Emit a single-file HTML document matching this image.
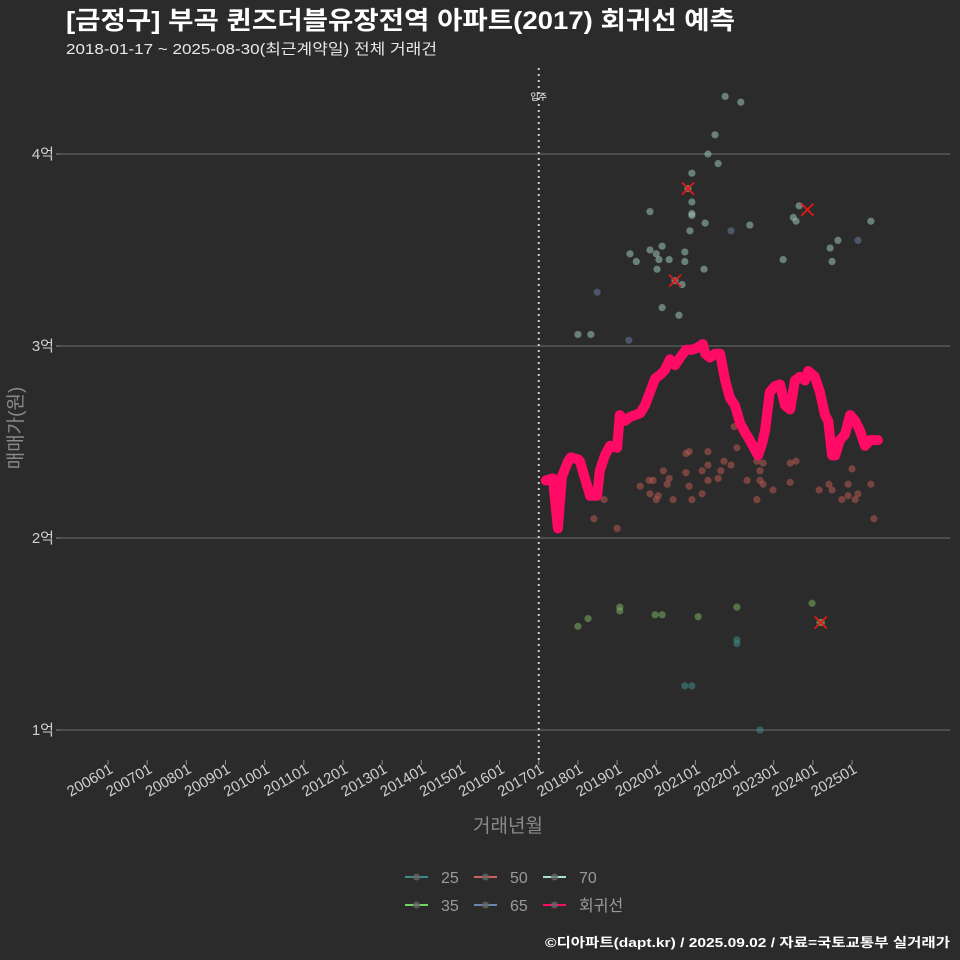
<!DOCTYPE html>
<html><head><meta charset="utf-8">
<style>
html,body{margin:0;padding:0;background:#2b2b2b;}
svg{display:block;font-family:"Liberation Sans","Noto Sans CJK KR",sans-serif;}
</style></head>
<body>
<svg id="chart" width="960" height="960" viewBox="0 0 960 960">
<rect width="960" height="960" fill="#2b2b2b"/>
<text x="66" y="29" font-size="25" font-weight="bold" fill="#ffffff" textLength="669" lengthAdjust="spacingAndGlyphs">[금정구] 부곡 퀸즈더블유장전역 아파트(2017) 회귀선 예측</text>
<text x="66" y="54" font-size="15" fill="#e8e8e8" textLength="371" lengthAdjust="spacingAndGlyphs">2018-01-17 ~ 2025-08-30(최근계약일) 전체 거래건</text>
<g id="grid"></g>
<g id="xaxis"></g>
<g id="yaxis"></g>
<g id="points"></g>
<g id="line"></g>
<g id="marks"></g>
<text transform="translate(22,428) rotate(-90)" text-anchor="middle" font-size="19" fill="#8a8a8a">매매가(원)</text>
<text x="508" y="832" text-anchor="middle" font-size="19" fill="#8a8a8a">거래년월</text>
<g id="legend"></g>
<text x="950" y="947" text-anchor="end" font-size="13" font-weight="bold" fill="#ffffff" textLength="405" lengthAdjust="spacingAndGlyphs">©디아파트(dapt.kr) / 2025.09.02 / 자료=국토교통부 실거래가</text>
</svg>
<script>
const yTicks=[1,2,3,4];
const yTickLabels=["1억","2억","3억","4억"];
const xTickYears=[2006,2007,2008,2009,2010,2011,2012,2013,2014,2015,2016,2017,2018,2019,2020,2021,2022,2023,2024,2025];
const xTickLabels=["200601","200701","200801","200901","201001","201101","201201","201301","201401","201501","201601","201701","201801","201901","202001","202101","202201","202301","202401","202501"];
const moveInYear=2017;
const regT=[2017.18,2017.36,2017.49,2017.59,2017.75,2017.82,2018.00,2018.05,2018.18,2018.31,2018.49,2018.56,2018.69,2018.82,2019.00,2019.07,2019.20,2019.33,2019.59,2019.71,2019.84,2019.97,2020.10,2020.22,2020.35,2020.48,2020.61,2020.76,2020.91,2021.04,2021.19,2021.25,2021.37,2021.50,2021.63,2021.76,2021.88,2022.01,2022.14,2022.27,2022.39,2022.52,2022.60,2022.70,2022.78,2022.90,2023.03,2023.16,2023.29,2023.42,2023.54,2023.67,2023.80,2023.88,2024.05,2024.18,2024.31,2024.39,2024.49,2024.57,2024.69,2024.82,2024.95,2025.08,2025.20,2025.33,2025.46,2025.66];
const regP=[2.30,2.31,2.05,2.32,2.40,2.42,2.41,2.40,2.31,2.22,2.22,2.35,2.43,2.48,2.47,2.64,2.61,2.63,2.65,2.69,2.76,2.83,2.85,2.875,2.93,2.90,2.94,2.98,2.98,2.99,3.01,2.96,2.94,2.96,2.96,2.82,2.73,2.69,2.60,2.55,2.51,2.46,2.43,2.49,2.56,2.76,2.79,2.80,2.69,2.67,2.82,2.84,2.82,2.87,2.84,2.76,2.64,2.61,2.43,2.43,2.51,2.54,2.64,2.61,2.56,2.48,2.51,2.51];
const s70T=[2021.76,2022.16,2021.50,2021.32,2021.58,2020.91,2020.81,2020.91,2020.91,2020.91,2019.84,2021.25,2022.39,2020.86,2023.65,2023.50,2023.57,2025.48,2024.44,2024.64,2024.49,2023.24,2019.33,2019.49,2019.84,2020.00,2020.15,2020.07,2020.02,2020.33,2020.73,2021.22,2020.73,2020.48,2020.66,2020.15,2020.58,2018.00,2018.33];
const s70P=[4.30,4.27,4.10,4.00,3.95,3.90,3.82,3.75,3.69,3.68,3.70,3.64,3.63,3.60,3.73,3.67,3.65,3.65,3.51,3.55,3.44,3.45,3.48,3.44,3.50,3.48,3.52,3.45,3.40,3.45,3.49,3.40,3.44,3.34,3.32,3.20,3.16,3.06,3.06];
const s65T=[2018.49,2019.30,2021.91,2025.15];
const s65P=[3.28,3.03,3.60,3.55];
const s50T=[2018.41,2019.00,2018.67,2019.59,2019.82,2019.92,2019.84,2020.00,2020.05,2020.18,2020.28,2020.33,2020.43,2020.76,2020.84,2020.76,2020.84,2020.91,2021.17,2021.17,2021.32,2021.32,2021.32,2021.58,2021.65,2021.73,2021.91,2021.99,2022.06,2022.32,2022.57,2022.65,2022.73,2022.65,2022.73,2022.57,2022.98,2023.42,2023.57,2023.42,2024.16,2024.41,2024.49,2024.74,2024.90,2025.00,2024.90,2025.08,2025.15,2025.48,2025.56];
const s50P=[2.10,2.05,2.20,2.27,2.30,2.30,2.23,2.20,2.22,2.35,2.28,2.31,2.20,2.44,2.45,2.34,2.27,2.20,2.23,2.35,2.38,2.45,2.30,2.31,2.35,2.40,2.38,2.58,2.47,2.30,2.40,2.35,2.39,2.30,2.28,2.20,2.25,2.39,2.40,2.29,2.25,2.28,2.25,2.20,2.28,2.36,2.22,2.20,2.23,2.28,2.10];
const s35T=[2018.00,2018.26,2019.07,2019.07,2019.97,2020.15,2021.07,2022.06,2023.98,2024.18,2024.22];
const s35P=[1.54,1.58,1.64,1.62,1.60,1.60,1.59,1.64,1.66,1.56,1.56];
const s25T=[2022.06,2022.06,2020.73,2020.91,2022.65];
const s25P=[1.47,1.45,1.23,1.23,1.00];
const xMarkT=[2020.81,2020.48,2023.86,2024.20];
const xMarkP=[3.82,3.34,3.71,1.56];

const NS="http://www.w3.org/2000/svg";
function X(t){return 108+(t-2006)*39.16;}
function Y(p){return 730-(p-1)*192;}
function mk(tag,attrs,parent){const e=document.createElementNS(NS,tag);for(const k in attrs)e.setAttribute(k,attrs[k]);parent.appendChild(e);return e;}
const grid=document.getElementById('grid'),xa=document.getElementById('xaxis'),ya=document.getElementById('yaxis');
yTicks.forEach((v,i)=>{
  const l=mk('line',{x1:60,x2:950,y1:Y(v),y2:Y(v),stroke:'#6e6e6e','stroke-width':1},grid);
  
  
  const tk=mk('line',{x1:56,x2:60,y1:Y(v),y2:Y(v),stroke:'#8a8a8a'},ya);
  
  
  const t=mk('text',{x:54,y:Y(v)+5,'text-anchor':'end','font-size':15,fill:'#cfcfcf'},ya);
  t.textContent=yTickLabels[i];
  
  
});
xTickYears.forEach((yr,i)=>{
  const x=X(yr);
  const tk=mk('line',{x1:x,x2:x,y1:760,y2:765,stroke:'#8a8a8a'},xa);
  
  
  const t=mk('text',{transform:`translate(${x+6},${772}) rotate(-30)`,'text-anchor':'end','font-size':15,fill:'#cfcfcf'},xa);
  t.textContent=xTickLabels[i];
  
  
});
const vl=mk('line',{x1:X(moveInYear),x2:X(moveInYear),y1:68,y2:762,stroke:'#cccccc','stroke-width':2,'stroke-dasharray':'2,4'},grid);


const vt=mk('text',{x:X(moveInYear),y:100,'text-anchor':'middle','font-size':9,fill:'#ffffff'},grid);
vt.textContent='입주';



const pts=document.getElementById('points');
function scatter(T,P,col,name){
  T.forEach((t,i)=>{
    const c=mk('circle',{cx:X(t),cy:Y(P[i]),r:3.6,fill:col,'fill-opacity':0.55},pts);
    
    
  });
}
scatter(s50T,s50P,'#b85a50','point-50');
scatter(s35T,s35P,'#7ab060','point-35');
scatter(s25T,s25P,'#3f8a88','point-25');
scatter(s65T,s65P,'#6a7a9a','point-65');
scatter(s70T,s70P,'#9cc4ba','point-70');

const d=regT.map((t,i)=>(i?'L':'M')+X(t).toFixed(1)+','+Y(regP[i]).toFixed(1)).join(' ');
const rl=mk('path',{d:d,fill:'none',stroke:'#ff0a64','stroke-width':10,'stroke-linejoin':'round','stroke-linecap':'round'},document.getElementById('line'));



const mg=document.getElementById('marks');
xMarkT.forEach((t,i)=>{
  const x=X(t),y=Y(xMarkP[i]);
  const p=mk('path',{d:`M${x-6},${y-6}L${x+6},${y+6}M${x-6},${y+6}L${x+6},${y-6}`,stroke:'#e01818','stroke-width':1.8},mg);
  
  
});

const lg=document.getElementById('legend');
const legItems=[["25","#3f8a88",409,877],["50","#d06058",478,877],["70","#a8e0d8",547,877],["35","#7ad068",409,905],["65","#6a88b0",478,905],["회귀선","#ff0a64",547,905]];
legItems.forEach(([lab,col,x,y])=>{
  const g=mk('g',{},lg);
  
  
  mk('line',{x1:x-4,x2:x+19,y1:y,y2:y,stroke:col,'stroke-width':2},g);
  mk('circle',{cx:x+7.5,cy:y,r:3.5,fill:'#666','fill-opacity':0.8},g);
  const t=mk('text',{x:x+32,y:y+6,'font-size':16,fill:'#9a9a9a'},g);
  t.textContent=lab;
});
</script>
</body></html>
